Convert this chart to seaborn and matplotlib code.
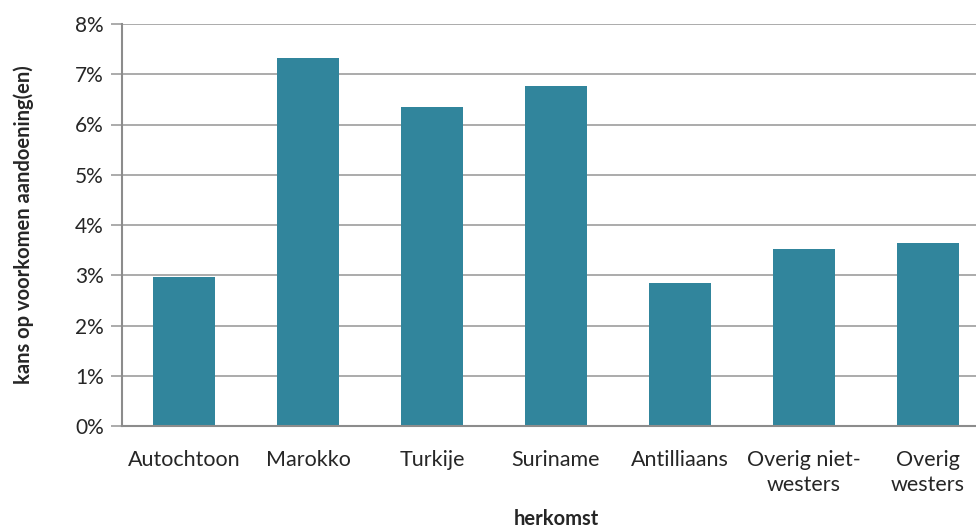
import matplotlib.pyplot as plt
import matplotlib.ticker as mticker
import pandas as pd
import seaborn as sns

herkomst = ["Autochtoon", "Marokko", "Turkije", "Suriname", "Antilliaans",
            "Overig niet-\nwesters", "Overig\nwesters"]
kans = [2.97, 7.32, 6.34, 6.77, 2.85, 3.52, 3.64]

data = pd.DataFrame({"herkomst": herkomst, "kans": kans})

sns.set_theme(style="white")
plt.rcParams["font.family"] = ["Lato", "DejaVu Sans"]

fig = plt.figure(figsize=(9.76, 5.31), dpi=100)
ax = fig.add_axes([122 / 976, 105 / 531, 868 / 976, 402 / 531])

sns.barplot(data=data, x="herkomst", y="kans", color="#31859c",
            saturation=1, width=0.5, linewidth=0, ax=ax)

ax.set_xlim(-0.5, 6.5)
ax.set_ylim(0, 8)
ax.set_yticks(range(0, 9))
ax.yaxis.set_major_formatter(mticker.FuncFormatter(lambda v, p: f"{v:.0f}%"))
ax.yaxis.grid(True, color="#ababab", linewidth=1.4)
ax.set_axisbelow(True)

for side in ["top", "right"]:
    ax.spines[side].set_visible(False)
for side in ["left", "bottom"]:
    ax.spines[side].set_color("#8c8c8c")
    ax.spines[side].set_linewidth(1.5)

ax.tick_params(axis="y", length=8, width=1.4, color="#ababab", labelsize=15,
               left=True, pad=5)
ax.tick_params(axis="x", length=0, labelsize=15.5, pad=17)
for lbl in ax.get_xticklabels():
    lbl.set_linespacing(1.35)

ax.set_xlabel("herkomst", fontsize=14.5, fontweight="bold", labelpad=10)
ax.set_ylabel("kans op voorkomen aandoening(en)", fontsize=14.5,
              fontweight="bold", labelpad=30)

fig.savefig("out.png", dpi=100)
